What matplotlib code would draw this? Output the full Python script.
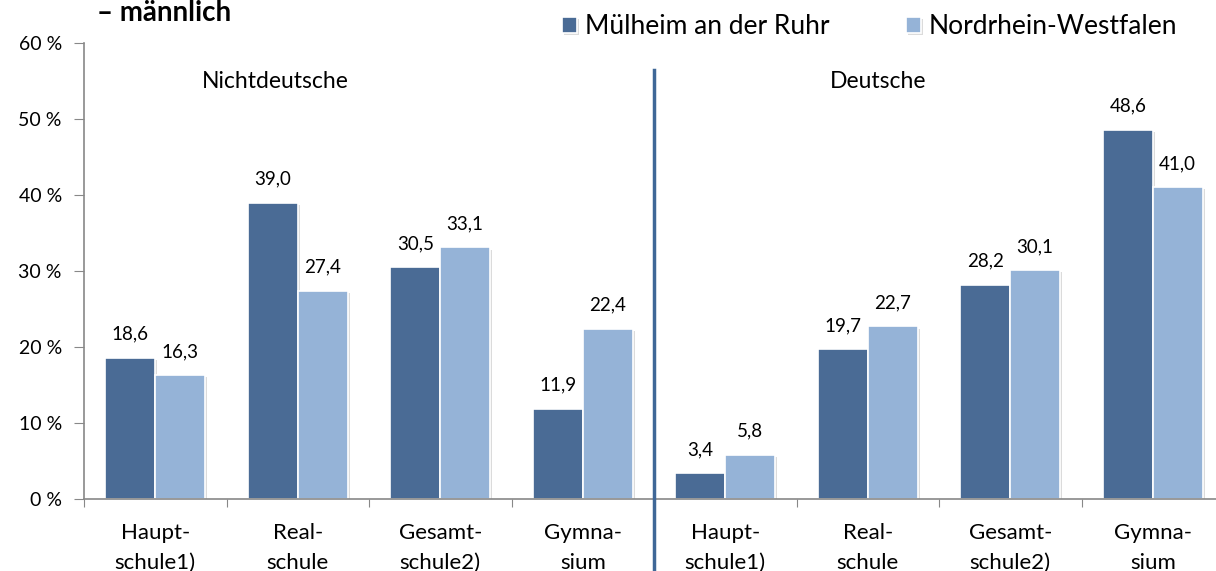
import matplotlib
matplotlib.use("Agg")
import matplotlib.pyplot as plt
import matplotlib.patheffects as pe

plt.rcParams['font.family'] = ['Lato', 'DejaVu Sans']

categories = ["Haupt-\nschule1)", "Real-\nschule", "Gesamt-\nschule2)", "Gymna-\nsium"] * 2
groups = ["Nichtdeutsche", "Deutsche"]
series_names = ["Mülheim an der Ruhr", "Nordrhein-Westfalen"]
muelheim = [18.6, 39.0, 30.5, 11.9, 3.4, 19.7, 28.2, 48.6]
nrw = [16.3, 27.4, 33.1, 22.4, 5.8, 22.7, 30.1, 41.0]
yticks = [0, 10, 20, 30, 40, 50, 60]

dark = '#4A6B95'
light = '#95B3D7'
W, H = 1216, 571
fig = plt.figure(figsize=(W / 100, H / 100), dpi=100)
ax = fig.add_axes([84 / W, 1 - 499 / H, 1140 / W, (499 - 43) / H])

x = list(range(len(categories)))
bw = 0.35
shadow = [pe.SimplePatchShadow(offset=(1.5, -1.5), shadow_rgbFace='#999999', alpha=0.35), pe.Normal()]
b1 = ax.bar([i - bw / 2 for i in x], muelheim, width=bw, color=dark, edgecolor='white', linewidth=1.2,
            label=series_names[0])
b2 = ax.bar([i + bw / 2 for i in x], nrw, width=bw, color=light, edgecolor='white', linewidth=1.2,
            label=series_names[1])
for b in list(b1) + list(b2):
    b.set_path_effects(shadow)

def fmt(v):
    return f"{v:.1f}".replace('.', ',')

for bars, vals in ((b1, muelheim), (b2, nrw)):
    for b, v in zip(bars, vals):
        ax.annotate(fmt(v), (b.get_x() + b.get_width() / 2, v), xytext=(0, 13), textcoords='offset points',
                    ha='center', va='baseline', fontsize=13.5, color='black')

ax.set_xlim(-0.5, 7.5)
ax.set_ylim(0, 60)
ax.set_yticks(yticks)
ax.set_yticklabels([f"{t} %" for t in yticks], fontsize=14)
ax.set_xticks([i - 0.5 for i in range(9)])
ax.set_xticklabels([])
ax.set_xticks(x, minor=True)
ax.set_xticklabels(categories, minor=True, fontsize=16, linespacing=1.65)
ax.tick_params(axis='x', which='minor', length=0, pad=17)
ax.tick_params(axis='x', which='major', length=6, color='#888888', direction='out')
ax.tick_params(axis='y', length=7, color='#888888', direction='out', pad=9)
for s in ('top', 'right'):
    ax.spines[s].set_visible(False)
for s in ('left', 'bottom'):
    ax.spines[s].set_color('#888888')
    ax.spines[s].set_linewidth(1.2)

# divider between groups
ax.plot([3.5, 3.5], [56.4, -10], color='#3F6797', linewidth=2.5, clip_on=False, zorder=5)
ax.text(0.84, 54.9, groups[0], ha='center', va='center', fontsize=16.5)
ax.text(5.07, 54.9, groups[1], ha='center', va='center', fontsize=16.5)

fig.text(97 / W, 1 - 21 / H, "– männlich", fontsize=20, fontweight='bold', ha='left', va='baseline')

fig.legend(handles=[b1, b2], labels=series_names, loc='center left', bbox_to_anchor=(562 / W, 1 - 27 / H),
           ncol=2, frameon=False, fontsize=19, handlelength=0.57, handleheight=0.57, handletextpad=0.3,
           columnspacing=2.9, borderaxespad=0, borderpad=0)

fig.savefig('out.png', dpi=100)
